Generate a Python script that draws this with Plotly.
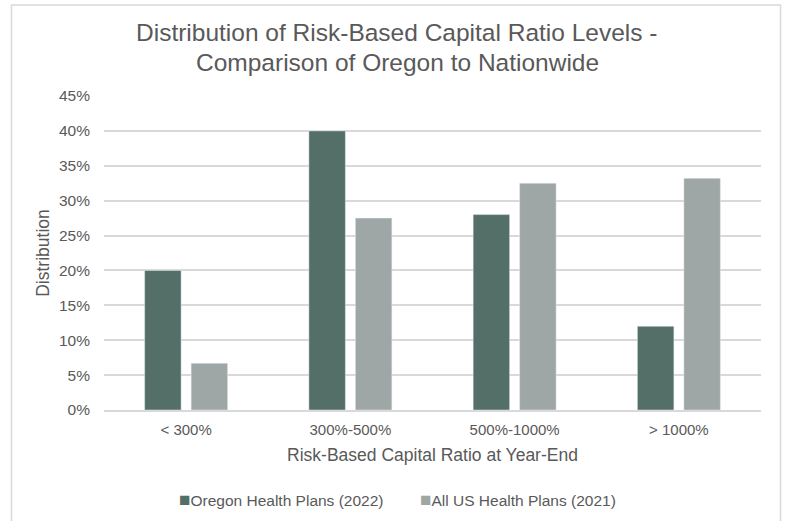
import plotly.graph_objects as go

categories = ["< 300%", "300%-500%", "500%-1000%", "> 1000%"]
oregon_2022 = [0.20, 0.40, 0.28, 0.12]
us_2021 = [0.067, 0.275, 0.325, 0.332]
y_ticks = [0, 0.05, 0.10, 0.15, 0.20, 0.25, 0.30, 0.35, 0.40, 0.45]

series_names = ["Oregon Health Plans (2022)", "All US Health Plans (2021)"]
series_colors = ["#546e68", "#9ea7a5"]
title_lines = ["Distribution of Risk-Based Capital Ratio Levels -",
               "Comparison of Oregon to Nationwide"]

W, H = 786, 521
L, R, T, B = 104, 25, 96, 111
pw, ph = W - L - R, H - T - B

def px_x(x):
    return (x - L) / pw

def px_y(y):
    return (H - B - y) / ph

text_color = "#595959"
font = "Liberation Sans, Arial, sans-serif"

fig = go.Figure()
for name, vals, col in zip(series_names, [oregon_2022, us_2021], series_colors):
    fig.add_trace(go.Bar(x=categories, y=vals, name=name, marker=dict(color=col),
                         showlegend=False))

annotations = []

# two-line chart title, centred on the frame
for line, yc in zip(title_lines, [33, 62]):
    annotations.append(dict(
        text=line, xref="paper", yref="paper", x=px_x(397), y=px_y(yc),
        xanchor="center", yanchor="middle", showarrow=False,
        font=dict(size=24.5, color=text_color, family=font)))

# legend row: small square swatch directly before each label
for name, col, x0 in zip(series_names, series_colors, [177, 418]):
    annotations.append(dict(
        text=f"<span style='color:{col};font-size:19px'>■</span>{name}",
        xref="paper", yref="paper", x=px_x(x0), y=px_y(499),
        xanchor="left", yanchor="middle", showarrow=False,
        font=dict(size=15.5, color=text_color, family=font)))

fig.update_layout(
    width=W, height=H,
    margin=dict(l=L, r=R, t=T, b=B),
    paper_bgcolor="white", plot_bgcolor="white",
    font=dict(family=font, color=text_color, size=15),
    barmode="group", bargap=0.434, bargroupgap=0.215,
    xaxis=dict(showgrid=False, showline=True, linecolor="#d9d9d9", linewidth=1.5,
               ticks="", ticklabelstandoff=5, tickfont=dict(size=15, color=text_color),
               title=dict(text="Risk-Based Capital Ratio at Year-End", standoff=12,
                          font=dict(size=17.5, color=text_color))),
    yaxis=dict(range=[0, 0.45], tickvals=y_ticks, tickformat=".0%",
               showgrid=True, gridcolor="#d9d9d9", gridwidth=1.5, zeroline=False,
               ticks="", ticklabelstandoff=13, tickfont=dict(size=15.5, color=text_color),
               title=dict(text="Distribution", standoff=4,
                          font=dict(size=17.5, color=text_color))),
    annotations=annotations,
    shapes=[dict(type="rect", xref="paper", yref="paper",
                 x0=px_x(11.5), x1=px_x(780.5), y0=px_y(540), y1=px_y(5),
                 line=dict(color="#d9d9d9", width=1.5), fillcolor="rgba(0,0,0,0)",
                 layer="below")],
)

fig.write_html("out.html")
